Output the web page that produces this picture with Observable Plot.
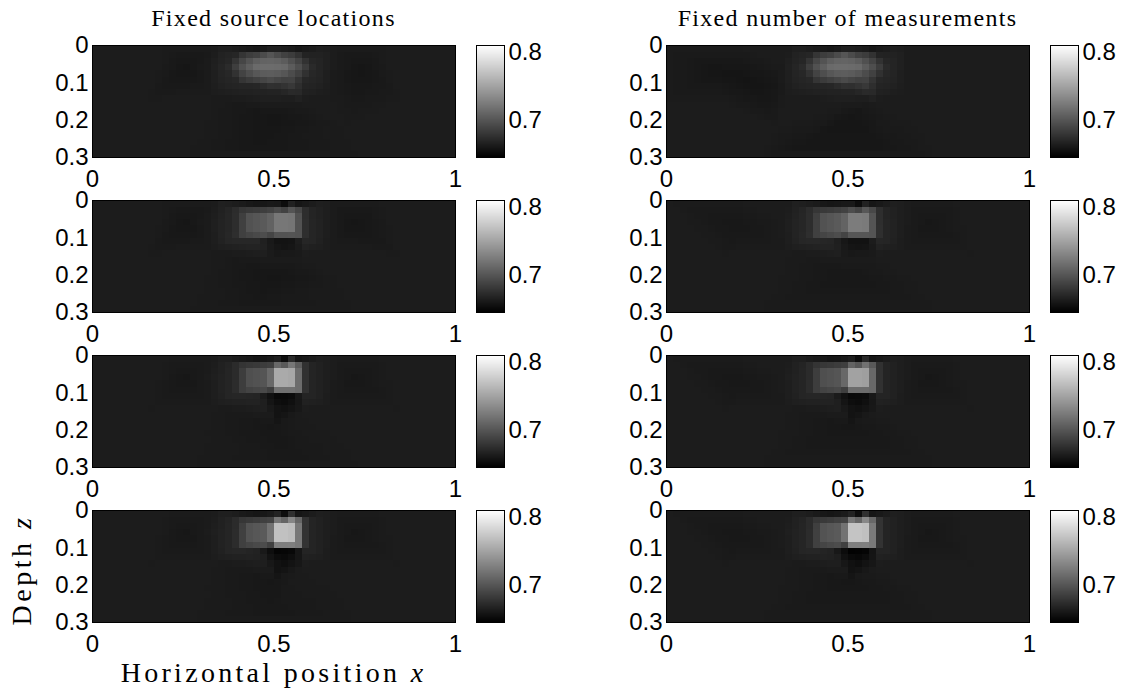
<!DOCTYPE html>
<html><head><meta charset="utf-8">
<script src="https://cdn.jsdelivr.net/npm/d3@7"></script>
<script src="https://cdn.jsdelivr.net/npm/@observablehq/plot@0.6"></script>
<style>
body{margin:0;background:#fff;}
#fig{position:relative;width:1128px;height:688px;overflow:hidden;background:#fff;}
#fig > svg{position:absolute;}
.lbl{position:absolute;font-family:"Liberation Serif","Times New Roman",serif;color:#000;white-space:nowrap;line-height:1;}
</style></head><body><div id="fig"></div>
<script>
// ---- data ----
const columnTitles = ["Fixed source locations", "Fixed number of measurements"];
const xTicks = [0, 0.5, 1];
const xTickLabels = ["0", "0.5", "1"];
const zTicks = [0, 0.1, 0.2, 0.3];
const zTickLabels = ["0", "0.1", "0.2", "0.3"];
const colorDomain = [0.645, 0.81];
const colorTicks = [0.7, 0.8];
const colorTickLabels = ["0.7", "0.8"];
const bgLevel = 0.663;
// background sample positions [x, z]
const bgPoints = [[0,0],[0.2,0],[0.34,0],[0.66,0],[0.8,0],[1,0],[0,0.15],[0.15,0.15],[0.85,0.15],[1,0.15],
  [0,0.3],[0.25,0.3],[0.75,0.3],[1,0.3],[0.3,0.22],[0.7,0.22],[0.49,0.155],[0.575,0.15],[0.33,0.13],[0.65,0.13],
  [0.32,0.055],[0.66,0.055]];
// smooth blob (top row) samples [x, z, value]
const srcRow1 = [[0.45,0.055,0.716],[0.49,0.055,0.717],[0.53,0.055,0.715],
  [0.415,0.055,0.700],[0.565,0.055,0.698],[0.49,0.025,0.700],[0.49,0.086,0.699],
  [0.44,0.03,0.694],[0.54,0.03,0.692],[0.44,0.082,0.694],[0.54,0.082,0.694],
  [0.37,0.055,0.671],[0.61,0.055,0.671],[0.40,0.018,0.669],[0.58,0.018,0.667],[0.40,0.1,0.670],[0.58,0.1,0.670],
  [0.49,0.115,0.669],[0.505,0,0.652],[0.545,0,0.653],
  [0.26,0.06,0.659],[0.74,0.06,0.659],[0.5,0.19,0.659],[0.46,0.27,0.660]];
const measRow1 = [[0.45,0.055,0.716],[0.49,0.055,0.717],[0.53,0.055,0.715],
  [0.415,0.055,0.700],[0.565,0.055,0.698],[0.49,0.025,0.700],[0.49,0.086,0.699],
  [0.44,0.03,0.694],[0.54,0.03,0.692],[0.44,0.082,0.694],[0.54,0.082,0.694],
  [0.37,0.055,0.671],[0.61,0.055,0.671],[0.40,0.018,0.669],[0.58,0.018,0.667],[0.40,0.1,0.670],[0.58,0.1,0.670],
  [0.49,0.115,0.669],[0.505,0,0.652],[0.545,0,0.653],
  [0.133,0.067,0.659],[0.222,0.093,0.658],[0.287,0.104,0.659],[0.51,0.185,0.659],[0.35,0.28,0.660],[0.6,0.28,0.660]];
// two-cell blobs: [x, z, value]
const srcRow2 = [[0.433,0.036,0.698],[0.487,0.036,0.705],[0.433,0.086,0.698],[0.487,0.086,0.705],
  [0.503,0.036,0.722],[0.547,0.036,0.722],[0.503,0.086,0.722],[0.547,0.086,0.722],
  [0.39,0.02,0.671],[0.59,0.02,0.670],[0.39,0.1,0.672],[0.59,0.1,0.671],[0.455,0.108,0.670],
  [0.505,0,0.650],[0.545,0,0.651],[0.525,0.015,0.656],
  [0.505,0.102,0.657],[0.545,0.102,0.657],[0.525,0.125,0.658],
  [0.26,0.06,0.659],[0.72,0.06,0.659],[0.5,0.2,0.659],[0.45,0.28,0.661]];
const srcRow3 = [[0.433,0.036,0.696],[0.487,0.036,0.702],[0.433,0.086,0.696],[0.487,0.086,0.702],
  [0.503,0.036,0.755],[0.547,0.036,0.755],[0.503,0.086,0.755],[0.547,0.086,0.755],
  [0.39,0.02,0.670],[0.59,0.02,0.670],[0.39,0.1,0.671],[0.59,0.1,0.670],[0.455,0.108,0.668],
  [0.505,0,0.650],[0.545,0,0.651],[0.525,0.015,0.656],
  [0.505,0.102,0.650],[0.545,0.102,0.651],[0.525,0.128,0.653],
  [0.26,0.06,0.660],[0.72,0.06,0.660],[0.5,0.19,0.660],[0.55,0.28,0.661]];
const srcRow4 = [[0.433,0.036,0.699],[0.487,0.036,0.705],[0.433,0.086,0.699],[0.487,0.086,0.705],
  [0.503,0.036,0.770],[0.547,0.036,0.770],[0.503,0.086,0.770],[0.547,0.086,0.770],
  [0.39,0.02,0.670],[0.59,0.02,0.670],[0.39,0.1,0.671],[0.59,0.1,0.670],[0.455,0.108,0.667],
  [0.505,0,0.651],[0.545,0,0.651],[0.525,0.015,0.656],
  [0.505,0.102,0.647],[0.545,0.102,0.648],[0.525,0.13,0.652],
  [0.26,0.06,0.660],[0.72,0.06,0.660],[0.5,0.19,0.660],[0.5,0.28,0.661]];
const measRow2 = [[0.433,0.036,0.698],[0.487,0.036,0.705],[0.433,0.086,0.698],[0.487,0.086,0.705],
  [0.503,0.036,0.725],[0.547,0.036,0.725],[0.503,0.086,0.725],[0.547,0.086,0.725],
  [0.39,0.02,0.671],[0.59,0.02,0.670],[0.39,0.1,0.672],[0.59,0.1,0.671],[0.455,0.108,0.669],
  [0.505,0,0.650],[0.545,0,0.651],[0.525,0.015,0.656],
  [0.505,0.102,0.656],[0.545,0.102,0.656],[0.525,0.125,0.658],
  [0.2,0.07,0.660],[0.72,0.06,0.660],[0.5,0.2,0.660]];
const measRow3 = [[0.433,0.036,0.696],[0.487,0.036,0.702],[0.433,0.086,0.696],[0.487,0.086,0.702],
  [0.503,0.036,0.750],[0.547,0.036,0.750],[0.503,0.086,0.750],[0.547,0.086,0.750],
  [0.39,0.02,0.670],[0.59,0.02,0.670],[0.39,0.1,0.671],[0.59,0.1,0.670],[0.455,0.108,0.668],
  [0.505,0,0.650],[0.545,0,0.651],[0.525,0.015,0.656],
  [0.505,0.102,0.650],[0.545,0.102,0.651],[0.525,0.128,0.653],
  [0.2,0.07,0.660],[0.72,0.06,0.660],[0.5,0.19,0.660]];
const measRow4 = [[0.433,0.036,0.699],[0.487,0.036,0.705],[0.433,0.086,0.699],[0.487,0.086,0.705],
  [0.503,0.036,0.772],[0.547,0.036,0.772],[0.503,0.086,0.772],[0.547,0.086,0.772],
  [0.39,0.02,0.670],[0.59,0.02,0.670],[0.39,0.1,0.671],[0.59,0.1,0.670],[0.455,0.108,0.667],
  [0.505,0,0.651],[0.545,0,0.651],[0.525,0.015,0.656],
  [0.505,0.102,0.645],[0.545,0.102,0.646],[0.525,0.13,0.651],
  [0.2,0.07,0.660],[0.72,0.06,0.660],[0.5,0.19,0.660]];
const panels = [[srcRow1, measRow1], [srcRow2, measRow2], [srcRow3, measRow3], [srcRow4, measRow4]];

// ---- layout ----
const rowTops = [45, 200, 355, 510];
const panelLefts = [92, 666];
const barLefts = [476, 1050];
const PW = 363, PH = 112, BW = 28;
const ML = 80, MR = 6, MT = 10, MB = 40;
const fig = document.getElementById("fig");
const color = {type: "linear", domain: colorDomain, range: ["black", "white"], clamp: true};
const tickFont = {fontFamily: "'Liberation Sans', Arial, sans-serif", fontSize: "24px", background: "transparent", color: "#000", overflow: "visible"};

function place(el, left, top) { el.style.left = left + "px"; el.style.top = top + "px"; fig.appendChild(el); }

function panel(points, left, top) {
  const data = bgPoints.map(([x, z]) => [x, z, bgLevel]).concat(points);
  const svg = Plot.plot({
    width: PW + ML + MR, height: PH + MT + MB,
    marginLeft: ML, marginRight: MR, marginTop: MT, marginBottom: MB,
    style: tickFont,
    x: {domain: [0, 1], label: null},
    y: {domain: [0, 0.3], reverse: true, label: null},
    color,
    marks: [
      Plot.rect([bgLevel], {x1: 0, x2: 1, y1: 0, y2: 0.3, fill: d => d}),
      Plot.raster(data, {x: d => d[0], y: d => d[1], fill: d => d[2], interpolate: "barycentric",
        x1: 0, x2: 1, y1: 0, y2: 0.3, width: 52, height: 18, imageRendering: "pixelated"}),
      Plot.frame({stroke: "black", strokeWidth: 1}),
      Plot.axisX(xTicks, {tickSize: 0, tickPadding: 12, tickFormat: d => xTickLabels[xTicks.indexOf(d)], label: null, fontSize: 24}),
      Plot.axisY(zTicks, {tickSize: 0, tickPadding: 4, tickFormat: d => zTickLabels[zTicks.indexOf(d)], label: null, fontSize: 24})
    ]
  });
  place(svg, left - ML, top - MT);
}

function colorbar(left, top) {
  const svg = Plot.plot({
    width: BW + 60, height: PH + MT + MB,
    marginLeft: 0, marginRight: 60, marginTop: MT, marginBottom: MB,
    style: tickFont,
    x: {domain: [0, 1], axis: null},
    y: {domain: colorDomain, label: null},
    color,
    marks: [
      Plot.raster({fill: (x, y) => y, x1: 0, x2: 1, y1: colorDomain[0], y2: colorDomain[1], width: 1, height: PH}),
      Plot.frame({stroke: "black", strokeWidth: 1}),
      Plot.axisY(colorTicks, {anchor: "right", tickSize: 0, tickPadding: 4, tickFormat: d => colorTickLabels[colorTicks.indexOf(d)], label: null, fontSize: 24})
    ]
  });
  place(svg, left, top - MT);
}

rowTops.forEach((top, r) => {
  [0, 1].forEach(c => {
    panel(panels[r][c], panelLefts[c], top);
    colorbar(barLefts[c], top);
  });
});

// ---- texts ----
function label(html, left, top, size, spacing, extra) {
  const d = document.createElement("div");
  d.className = "lbl";
  d.innerHTML = html;
  d.style.left = left + "px"; d.style.top = top + "px"; d.style.fontSize = size + "px";
  d.style.letterSpacing = spacing + "px";
  d.style.transform = extra || "translateX(-50%)";
  fig.appendChild(d);
  return d;
}
label(columnTitles[0], panelLefts[0] + PW / 2, 6, 24, 1.3);
label(columnTitles[1], panelLefts[1] + PW / 2, 6, 24, 1.3);
label('Horizontal position <i>x</i>', panelLefts[0] + PW / 2, 659, 28, 3.3);
label('Depth <i>z</i>', 22, 570, 28, 3.5, "translate(-50%,-50%) rotate(-90deg)");
</script></body></html>
